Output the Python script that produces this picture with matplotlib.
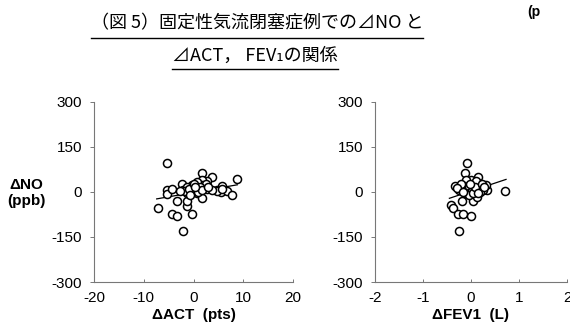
import matplotlib
matplotlib.use("Agg")
import matplotlib.pyplot as plt
from matplotlib.lines import Line2D

# ΔACT vs ΔNO
act_x = [-5.3, -7.2, -4.4, -3.4, -2.2, -0.3, -3.4, -1.3, -1.3, -5.4, -5.4, -4.3,
         -2.3, -2.2, 1.7, 3.7, 2.7, 1.7, 1.7, 0.7, -0.3, -1.3, 0.7, -0.3, -0.3,
         0.7, -1.3, 1.7, 2.7, 4.7, 5.7, 5.6, 4.7, 6.7, 7.8, 8.8, 5.7, 2.6, 1.3,
         0.3, 1.0, -1.7, -1.0, 1.8, 3.7, 3.0, -0.7, 0.0, -2.7, 0.4]
act_no = [96, -55, -72, -79, -130, -72, -29, -47, -31, 5, -6, 9,
          28, 8, 64, 51, 36, 40, 23, 32, 24, 18, 10, 2, 12,
          -4, -4, -19, 9, 8, 21, 0, 2, 2, -10, 42, 10, 27, 17,
          6, 0, 4, 9, 6, 6, 18, -10, 25, 3, 15]
act_fit_x = [-7.4, 8.8]
act_fit_y = [-23, 24]

# ΔFEV1 vs ΔNO
fev_x = [-0.08, -0.13, -0.42, -0.37, -0.28, -0.16, -0.01, -0.26, -0.19, 0.04,
         0.12, -0.33, 0.71, 0.33, 0.32, 0.15, 0.0, -0.1, -0.2, -0.15, -0.1,
         -0.05, 0.0, 0.05, 0.1, 0.15, 0.2, 0.25, -0.25, -0.2, -0.12, -0.05,
         0.05, 0.1, 0.18, -0.3, 0.08, -0.02, 0.22, -0.17, 0.14, 0.28]
fev_no = [98, 64, -43, -54, -74, -74, -80, -130, -29, -29,
          -17, 20, 4, 7, 22, 51, 40, 40, 10, 20, 5,
          15, 0, 25, 10, 30, 15, 5, 5, 25, -5, -10,
          -5, 35, 0, 12, 18, 28, 28, 0, -5, 15]
fev_fit_x = [-0.45, 0.73]
fev_fit_y = [-21, 42]

y_ticks = [-300, -150, 0, 150, 300]
act_ticks = [-20, -10, 0, 10, 20]
fev_ticks = [-2, -1, 0, 1, 2]

plt.rcParams["font.family"] = ["Liberation Sans", "DejaVu Sans"]

fig = plt.figure(figsize=(5.7, 3.24), dpi=100)
W, H = 570, 324


def panel(left, right, xs, ys, fx, fy, xticks, xlabel):
    ax = fig.add_axes([left / W, 1 - 282 / H, (right - left) / W, 180 / H])
    ax.plot(fx, fy, color="black", lw=0.9)
    ax.plot(xs, ys, "o", ms=5.8, mfc="white", mec="black", mew=1.1)
    ax.set_xlim(xticks[0], xticks[-1])
    ax.set_ylim(-300, 300)
    ax.set_xticks(xticks)
    ax.set_yticks(y_ticks)
    ax.set_xticklabels([str(t) for t in xticks])
    ax.set_yticklabels([str(t) for t in y_ticks])
    for s in ["top", "right"]:
        ax.spines[s].set_visible(False)
    for s in ["left", "bottom"]:
        ax.spines[s].set_color("#777777")
        ax.spines[s].set_linewidth(0.8)
    ax.tick_params(axis="y", direction="out", length=3, width=0.7,
                   color="#777777", labelsize=11, pad=5.5)
    ax.tick_params(axis="x", direction="in", length=2.5, width=0.7,
                   color="#777777", labelsize=11, pad=6.5)
    # axis title placed under the tick labels
    fig.text((left + right) / 2 / W, 1 - 315 / H, xlabel, fontsize=11,
             fontweight="bold", ha="center", va="center")
    return ax


panel(94, 293, act_x, act_no, act_fit_x, act_fit_y, act_ticks, "ΔACT  (pts)")
panel(375, 567, fev_x, fev_no, fev_fit_x, fev_fit_y, fev_ticks, "ΔFEV1  (L)")

fig.text(26 / W, 1 - 193 / H, "ΔNO\n(ppb)", fontsize=11, fontweight="bold",
         ha="center", va="center", linespacing=1.2)
fig.text(527 / W, 1 - 12 / H, "(p", fontsize=10, fontweight="bold",
         ha="left", va="center")

# title with underlines
cjk = ["Noto Sans CJK JP", "DejaVu Sans"]
t1 = fig.text(257 / W, 1 - 23 / H, "（図 5）固定性気流閉塞症例での⊿NO と",
              family=cjk, fontsize=13, ha="center", va="center")
t2 = fig.text(255 / W, 1 - 56 / H, "⊿ACT， FEV₁の関係",
              family=cjk, fontsize=13, ha="center", va="center")
fig.canvas.draw()
r = fig.canvas.get_renderer()
for t, yline in [(t1, 38), (t2, 69)]:
    bb = t.get_window_extent(r)
    fig.add_artist(Line2D([bb.x0 / W, bb.x1 / W], [1 - yline / H, 1 - yline / H],
                          color="black", lw=1.0, transform=fig.transFigure))

fig.savefig("out.png", dpi=100)
